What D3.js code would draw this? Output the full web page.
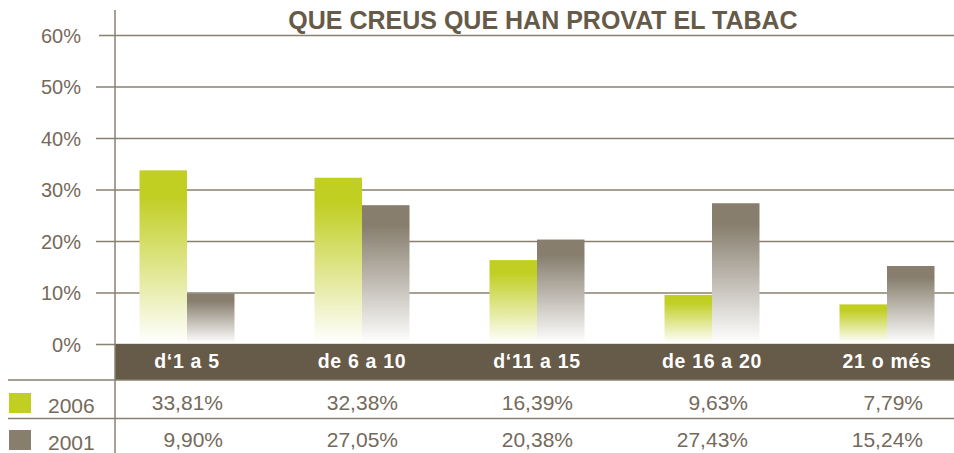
<!DOCTYPE html>
<html>
<head>
<meta charset="utf-8">
<script src="https://cdn.jsdelivr.net/npm/d3@7"></script>
<style>
  body { margin: 0; background: #fff; }
  svg { display: block; font-family: "Liberation Sans", Arial, sans-serif; }
</style>
</head>
<body>
<div id="chart"></div>
<script>
const title = "QUE CREUS QUE HAN PROVAT EL TABAC";
const categories = ["d\u20181 a 5", "de 6 a 10", "d\u201811 a 15", "de 16 a 20", "21 o més"];
const seriesNames = ["2006", "2001"];
const values2006 = [33.81, 32.38, 16.39, 9.63, 7.79];
const values2001 = [9.90, 27.05, 20.38, 27.43, 15.24];
const yTicks = [0, 10, 20, 30, 40, 50, 60];

const W = 954, H = 453;
const axisX = 115;
const ink = "#665a48";
const gridCol = "#8a8070";
const colors = { "2006": "#c1ce22", "2001": "#877e6e" };

const svg = d3.select("#chart").append("svg")
  .attr("width", W).attr("height", H);

const defs = svg.append("defs");
seriesNames.forEach(s => {
  const g = defs.append("linearGradient")
    .attr("id", "grad" + s)
    .attr("x1", 0).attr("y1", 0).attr("x2", 0).attr("y2", 1);
  g.append("stop").attr("offset", "0%").attr("stop-color", colors[s]);
  g.append("stop").attr("offset", "15%").attr("stop-color", colors[s]);
  g.append("stop").attr("offset", "100%").attr("stop-color", "#ffffff");
});

const y = d3.scaleLinear().domain([0, 60]).range([344.5, 35.5]);
const x = d3.scaleBand().domain(categories).range([99.5, 974.5]);
const inner = d3.scaleBand().domain(seriesNames).range([-47.5, 47.5]);

// gridlines
svg.append("g").selectAll("line")
  .data(yTicks)
  .enter().append("line")
  .attr("x1", d => d === 60 ? 99 : 96)
  .attr("x2", W)
  .attr("y1", d => y(d)).attr("y2", d => y(d))
  .attr("stroke", gridCol).attr("stroke-width", 1.3);

// y labels
svg.append("g").selectAll("text")
  .data(yTicks)
  .enter().append("text")
  .attr("x", 81)
  .attr("y", d => y(d) + 7)
  .attr("text-anchor", "end")
  .attr("font-size", 20)
  .attr("fill", "#746a5b")
  .text(d => d + "%");

// title
svg.append("text")
  .attr("x", 543).attr("y", 28.5)
  .attr("text-anchor", "middle")
  .attr("font-size", 25)
  .attr("font-weight", "bold")
  .attr("fill", ink)
  .text(title);

// bars
const rows = categories.map((c, i) => ({ cat: c, "2006": values2006[i], "2001": values2001[i] }));
const groups = svg.append("g").selectAll("g")
  .data(rows)
  .enter().append("g")
  .attr("transform", d => "translate(" + (x(d.cat) + x.bandwidth() / 2) + ",0)");
groups.selectAll("rect")
  .data(d => seriesNames.map(s => ({ s, v: d[s] })))
  .enter().append("rect")
  .attr("x", d => inner(d.s))
  .attr("width", inner.bandwidth())
  .attr("y", d => y(d.v))
  .attr("height", d => y(0) - 1.5 - y(d.v))
  .attr("fill", d => "url(#grad" + d.s + ")");

// category band
svg.append("rect")
  .attr("x", axisX).attr("y", 344)
  .attr("width", W - axisX).attr("height", 36)
  .attr("fill", ink);
svg.append("g").selectAll("text")
  .data(categories)
  .enter().append("text")
  .attr("x", d => x(d) + x.bandwidth() / 2)
  .attr("y", 368)
  .attr("text-anchor", "middle")
  .attr("font-size", 19.5)
  .attr("font-weight", "bold")
  .attr("letter-spacing", 0.7)
  .attr("fill", "#ffffff")
  .text(d => d);

// table lines
[380, 418.5].forEach(ly => {
  svg.append("line")
    .attr("x1", 8).attr("x2", W)
    .attr("y1", ly).attr("y2", ly)
    .attr("stroke", gridCol).attr("stroke-width", 1.3);
});

// vertical axis
svg.append("line")
  .attr("x1", axisX).attr("x2", axisX)
  .attr("y1", 10).attr("y2", H)
  .attr("stroke", gridCol).attr("stroke-width", 1.5);

// table rows
const tableRows = [
  { name: "2006", vals: values2006, base: 410 },
  { name: "2001", vals: values2001, base: 447 }
];
const fmt = v => v.toFixed(2).replace(".", ",") + "%";
tableRows.forEach(r => {
  svg.append("rect")
    .attr("x", 9).attr("y", r.base - 17)
    .attr("width", 22).attr("height", 20)
    .attr("fill", colors[r.name]);
  svg.append("text")
    .attr("x", 48).attr("y", r.base + 2.5)
    .attr("font-size", 21)
    .attr("fill", "#746a5b")
    .text(r.name);
  svg.append("g").selectAll("text")
    .data(r.vals)
    .enter().append("text")
    .attr("x", (d, i) => x(categories[i]) + x.bandwidth() / 2 + 36)
    .attr("y", r.base)
    .attr("text-anchor", "end")
    .attr("font-size", 21)
    .attr("fill", "#746a5b")
    .text(d => fmt(d));
});
</script>
</body>
</html>
